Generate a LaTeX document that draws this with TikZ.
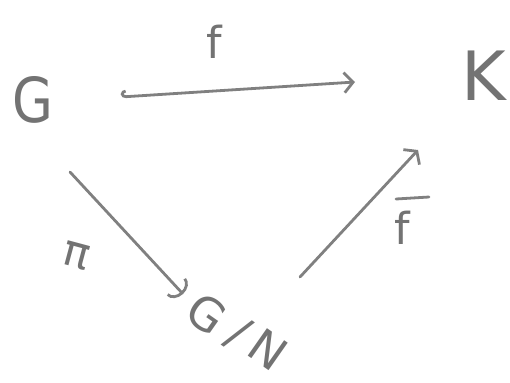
\documentclass[tikz,border=0pt]{standalone}
\usepackage{fontspec}
\setmainfont{DejaVu Sans}
\usetikzlibrary{arrows.meta}
\begin{document}
\begin{tikzpicture}[x=1pt,y=-1pt,
  pencil/.style={draw=black!50, line width=2.8pt, line cap=round},
  lab/.style={text=black!55, font=\fontsize{62}{62}\selectfont\addfontfeatures{FakeStretch=0.85}, inner sep=0pt},
  gn/.style={text=black!55, font=\fontsize{46}{46}\selectfont, inner sep=0pt, rotate=-35},
  small/.style={text=black!55, font=\fontsize{44}{44}\selectfont, inner sep=0pt}]
\useasboundingbox (0,0) rectangle (510,382);
\node[lab] (G) at (33,100) {G};
\node[lab, font=\fontsize{68}{68}\selectfont] (K) at (484,76) {K};
\node[gn] (GNg) at (207,314) {G};
\node[gn] (GNs) at (238,334) {/};
\node[gn] (GNn) at (268,350) {N};
\coordinate (a1) at (121,97);
\coordinate (a2) at (355,82);
\coordinate (b1) at (70,172);
\coordinate (b2) at (183,294);
\coordinate (c1) at (300,277);
\coordinate (c2) at (418,150);
\draw[pencil, {Hooks[right,length=5pt,width=14pt]}-{Straight Barb[length=9pt,width=20pt]}] (a1) -- (a2);
\draw[pencil, -{Arc Barb[length=10pt,width=26pt]}] (b1) -- (b2);
\draw[pencil, -{Straight Barb[length=8pt,width=22pt]}] (c1) -- (c2);
\node[small] (f) at (214,42) {f};
\node[small, rotate=-15] (pi) at (76,256) {π};
\node[small] (fb) at (402,228) {f};
\draw[pencil] (396,199) -- (429,197);
\end{tikzpicture}
\end{document}
